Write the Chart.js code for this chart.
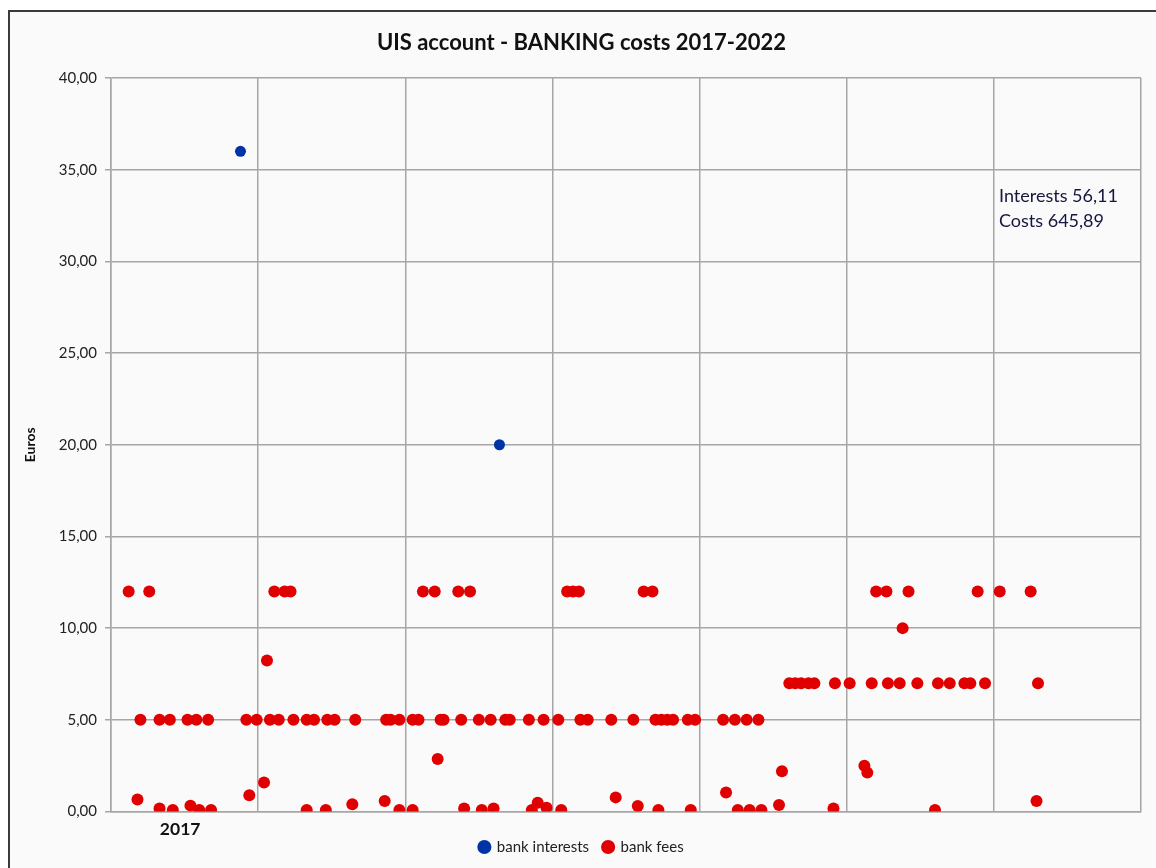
<!DOCTYPE html>
<html>
<head>
<meta charset="utf-8">
<title>UIS account - BANKING costs 2017-2022</title>
<script src="https://cdn.jsdelivr.net/npm/chart.js@4/dist/chart.umd.min.js"></script>
<style>
  html, body { margin: 0; padding: 0; background: #ffffff; }
  #wrap { position: relative; width: 1156px; height: 868px; }
  #frame {
    position: absolute; left: 8px; top: 10px; right: -4px; bottom: -4px;
    border-left: 2px solid #3a3a3a; border-top: 2px solid #3a3a3a;
    pointer-events: none;
  }
</style>
</head>
<body>
<div id="wrap">
  <canvas id="costChart" width="1156" height="868"></canvas>
  <div id="frame"></div>
</div>
<script>
// bank interests (date as decimal year, amount in euros)
const interestDates = [2017.88, 2019.64];
const interestAmounts = [36.0, 20.0];

// bank fees
const feeDates = [
  // 12,00
  2017.12, 2017.26, 2018.11, 2018.18, 2018.22, 2019.12, 2019.20, 2019.36, 2019.44,
  2020.10, 2020.14, 2020.18, 2020.62, 2020.68, 2022.20, 2022.27, 2022.42, 2022.89,
  2023.04, 2023.25,
  // 10,00 and 8,24
  2022.38, 2018.06,
  // 7,00
  2021.61, 2021.65, 2021.69, 2021.74, 2021.78, 2021.92, 2022.02, 2022.17, 2022.28,
  2022.36, 2022.48, 2022.62, 2022.70, 2022.80, 2022.84, 2022.94, 2023.30,
  // 5,00
  2017.20, 2017.33, 2017.40, 2017.52, 2017.58, 2017.66, 2017.92, 2017.99, 2018.08,
  2018.14, 2018.24, 2018.33, 2018.38, 2018.47, 2018.52, 2018.66, 2018.87, 2018.90,
  2018.96, 2019.05, 2019.09, 2019.24, 2019.26, 2019.38, 2019.50, 2019.58, 2019.68,
  2019.71, 2019.84, 2019.94, 2020.04, 2020.19, 2020.24, 2020.40, 2020.55, 2020.70,
  2020.74, 2020.78, 2020.82, 2020.92, 2020.97, 2021.16, 2021.24, 2021.32, 2021.40,
  // small amounts
  2017.18, 2017.33, 2017.42, 2017.54, 2017.60, 2017.68, 2017.94, 2018.04, 2018.33,
  2018.46, 2018.64, 2018.86, 2018.96, 2019.05, 2019.22, 2019.40, 2019.52, 2019.60,
  2019.86, 2019.90, 2019.96, 2020.06, 2020.43, 2020.58, 2020.72, 2020.94, 2021.18,
  2021.26, 2021.34, 2021.42, 2021.54, 2021.56, 2021.91, 2022.12, 2022.14, 2022.60,
  2023.29
];
const feeAmounts = [
  12, 12, 12, 12, 12, 12, 12, 12, 12,
  12, 12, 12, 12, 12, 12, 12, 12, 12,
  12, 12,
  10, 8.24,
  7, 7, 7, 7, 7, 7, 7, 7, 7,
  7, 7, 7, 7, 7, 7, 7, 7,
  5, 5, 5, 5, 5, 5, 5, 5, 5,
  5, 5, 5, 5, 5, 5, 5, 5, 5,
  5, 5, 5, 5, 5, 5, 5, 5, 5,
  5, 5, 5, 5, 5, 5, 5, 5, 5,
  5, 5, 5, 5, 5, 5, 5, 5, 5,
  0.65, 0.17, 0.08, 0.32, 0.08, 0.08, 0.88, 1.58, 0.08,
  0.08, 0.40, 0.57, 0.08, 0.08, 2.86, 0.17, 0.08, 0.17,
  0.08, 0.48, 0.20, 0.08, 0.77, 0.30, 0.08, 0.08, 1.03,
  0.08, 0.08, 0.08, 0.35, 2.20, 0.17, 2.50, 2.12, 0.08,
  0.57
];

// the only x label shown, centred in the first year column
const yearLabelValues = [2017.47];
const yearLabels = ["2017"];
const totals = ["Interests 56,11", "Costs 645,89"];

const gridColor = "#a6a6a6";
const fontFamily = "Lato, 'Open Sans', sans-serif";

function toPoints(xs, ys) {
  return xs.map((x, i) => ({ x: x, y: ys[i] }));
}

const background = {
  id: "background",
  beforeDraw(chart) {
    const ctx = chart.ctx;
    ctx.save();
    ctx.fillStyle = "#fafafa";
    ctx.fillRect(8, 10, chart.width - 8, chart.height - 10);
    ctx.restore();
  }
};

// year label under the axis and text box with the totals
const extraText = {
  id: "extraText",
  afterDraw(chart) {
    const { ctx, chartArea } = chart;
    const xScale = chart.scales.x;
    ctx.save();
    ctx.textBaseline = "middle";

    ctx.font = "bold 17.5px " + fontFamily;
    ctx.fillStyle = "#111";
    ctx.textAlign = "center";
    yearLabels.forEach((t, i) => {
      ctx.fillText(t, xScale.getPixelForValue(yearLabelValues[i]), chartArea.bottom + 17.5);
    });

    ctx.font = "18px " + fontFamily;
    ctx.fillStyle = "#16163f";
    ctx.textAlign = "left";
    totals.forEach((t, i) => {
      ctx.fillText(t, chartArea.right - 142, chartArea.top + 118 + i * 25);
    });
    ctx.restore();
  }
};

document.addEventListener("DOMContentLoaded", function () {
  const ctx = document.getElementById("costChart").getContext("2d");
  new Chart(ctx, {
    type: "scatter",
    data: {
      datasets: [
        {
          label: "bank interests",
          data: toPoints(interestDates, interestAmounts),
          backgroundColor: "#0033a6",
          borderColor: "#0033a6",
          pointRadius: 5.5,
          pointBorderWidth: 0,
          pointHoverRadius: 5.5
        },
        {
          label: "bank fees",
          data: toPoints(feeDates, feeAmounts),
          backgroundColor: "#e00000",
          borderColor: "#e00000",
          pointRadius: 6,
          pointBorderWidth: 0,
          pointHoverRadius: 6
        }
      ]
    },
    options: {
      responsive: false,
      animation: false,
      layout: { padding: { left: 22, right: 15, top: 0, bottom: 3.5 } },
      scales: {
        x: {
          type: "linear",
          min: 2017,
          max: 2024,
          afterFit: function (scale) {
            scale.height = 14;
          },
          ticks: { stepSize: 1, display: false },
          grid: { color: gridColor, lineWidth: 1.5, drawTicks: false },
          border: { color: gridColor, width: 1.5 }
        },
        y: {
          min: 0,
          max: 40,
          afterFit: function (scale) {
            scale.width = 89;
          },
          ticks: {
            stepSize: 5,
            padding: 8,
            color: "#222",
            font: { family: fontFamily, size: 15 },
            callback: function (value) {
              return value.toFixed(2).replace(".", ",");
            }
          },
          grid: { color: gridColor, lineWidth: 1.5, tickLength: 6 },
          border: { color: gridColor, width: 1.5 },
          title: {
            display: true,
            text: "Euros",
            color: "#111",
            font: { family: fontFamily, size: 14, weight: "bold" },
            padding: { top: 0, bottom: 0 }
          }
        }
      },
      plugins: {
        title: {
          display: true,
          text: "UIS account - BANKING costs 2017-2022",
          color: "#111",
          font: { family: fontFamily, size: 22, weight: "bold" },
          padding: { top: 30, bottom: 21.6 }
        },
        legend: {
          position: "bottom",
          labels: {
            usePointStyle: true,
            pointStyle: "circle",
            boxWidth: 10,
            boxHeight: 10,
            padding: 14,
            color: "#222",
            font: { family: fontFamily, size: 15 }
          }
        },
        tooltip: { enabled: false }
      }
    },
    plugins: [background, extraText]
  });
});
</script>
</body>
</html>
